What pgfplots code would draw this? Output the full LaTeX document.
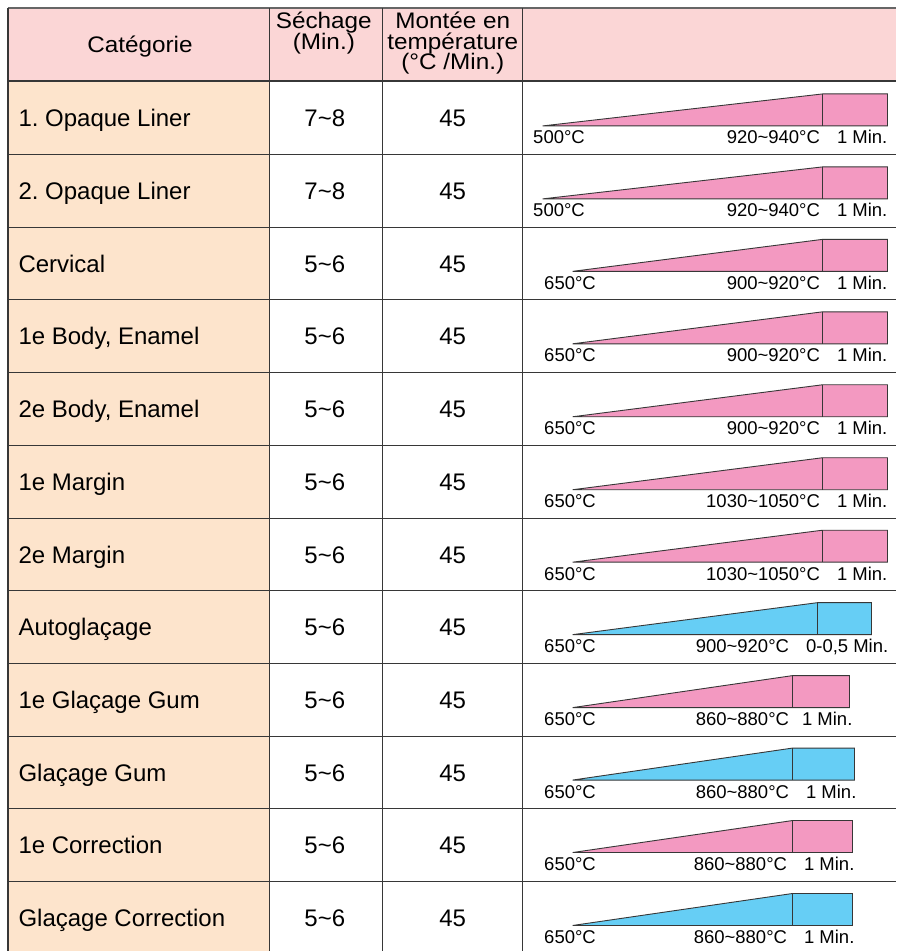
\documentclass[border=0pt]{standalone}
\usepackage{fontspec}
\setmainfont{Liberation Sans}
\newfontfamily\hdrfont[FakeStretch=1.08]{Liberation Sans}
\usepackage{pgfplots}
\pgfplotsset{compat=1.18}
\frenchspacing
\definecolor{hdrpink}{RGB}{251,214,214}
\definecolor{catpeach}{RGB}{253,228,204}
\definecolor{rpink}{RGB}{243,153,193}
\definecolor{rblue}{RGB}{102,206,245}
\definecolor{linec}{RGB}{55,55,55}
\newcommand{\ramp}[6]{%
  \addplot[draw=linec, line width=0.9pt, fill=#6] coordinates {(#3,#1) (#4,#2) (#5,#2) (#5,#1) (#3,#1)};
  \addplot[draw=linec, line width=0.9pt] coordinates {(#4,#2) (#4,#1)};
}
\newcommand{\hrow}[1]{\draw[linec, line width=1.1pt] (8,#1) -- (897,#1);}
\newcommand{\vcol}[1]{\draw[linec, line width=1.1pt] (#1,8) -- (#1,952);}
\newcommand{\rowtext}[3]{%
  \node[anchor=base west, font=\fontsize{24}{28}\selectfont] at (15,#1) {#2};
  \node[anchor=base, font=\fontsize{24}{28}\selectfont] at (325,#1) {#3};
  \node[anchor=base, font=\fontsize{24}{28}\selectfont] at (453,#1) {45};
}
\newcommand{\lab}[7]{%
  \node[anchor=base west, font=\fontsize{18.5}{22}\selectfont] at (#2,#1) {#3°C};
  \node[anchor=base east, font=\fontsize{18.5}{22}\selectfont] at (#4,#1) {#5°C};
  \node[anchor=base west, font=\fontsize{18.5}{22}\selectfont] at (#6,#1) {#7};
}
\newcommand{\tl}{\textasciitilde}
\begin{document}
\begin{tikzpicture}
\begin{axis}[
  width=897pt, height=952pt, scale only axis,
  xmin=0, xmax=897, ymin=0, ymax=952, y dir=reverse,
  hide axis, clip=false,
  every node/.style={inner sep=0pt, outer sep=0pt, text=black!85},
]
% backgrounds
\fill[white] (0,0) rectangle (897,952);
\fill[hdrpink] (8,8) rectangle (897,81);
\fill[catpeach] (8,81) rectangle (270,952);
% grid lines
\draw[gray!80!black, line width=1.6pt] (8,8) -- (897,8);
\draw[linec, line width=1.3pt] (8,81) -- (897,81);
\hrow{155}\hrow{227.5}\hrow{300}\hrow{373}\hrow{446}\hrow{518.5}
\hrow{591}\hrow{664}\hrow{736.5}\hrow{809}\hrow{882}
\vcol{8}\vcol{270}\vcol{383}\vcol{523}
% header text
\node[anchor=base, font=\hdrfont\fontsize{22.5}{24}\selectfont] at (140,53) {Catégorie};
\node[anchor=base, font=\hdrfont\fontsize{22.5}{24}\selectfont] at (324,29) {Séchage};
\node[anchor=base, font=\hdrfont\fontsize{22.5}{24}\selectfont] at (324,50) {(Min.)};
\node[anchor=base, font=\hdrfont\fontsize{22.5}{24}\selectfont] at (453,29) {Montée en};
\node[anchor=base, font=\hdrfont\fontsize{22.5}{24}\selectfont] at (453,49.5) {température};
\node[anchor=base, font=\hdrfont\fontsize{22.5}{24}\selectfont] at (453,70) {(°C /Min.)};
% row text
\rowtext{127}{1. Opaque Liner}{7\tl 8}
\rowtext{200}{2. Opaque Liner}{7\tl 8}
\rowtext{272.5}{Cervical}{5\tl 6}
\rowtext{345}{1e Body, Enamel}{5\tl 6}
\rowtext{418}{2e Body, Enamel}{5\tl 6}
\rowtext{491}{1e Margin}{5\tl 6}
\rowtext{563.5}{2e Margin}{5\tl 6}
\rowtext{636}{Autoglaçage}{5\tl 6}
\rowtext{709}{1e Glaçage Gum}{5\tl 6}
\rowtext{781.5}{Glaçage Gum}{5\tl 6}
\rowtext{854}{1e Correction}{5\tl 6}
\rowtext{927}{Glaçage Correction}{5\tl 6}
% ramps: base, top, xstart, xpeak, xend, colour
\ramp{126}{94}{543}{823}{888}{rpink}
\ramp{199}{167}{543}{823}{888}{rpink}
\ramp{271.5}{239.5}{573}{823}{888}{rpink}
\ramp{344}{312}{573}{823}{888}{rpink}
\ramp{417}{385}{573}{823}{888}{rpink}
\ramp{490}{458}{573}{823}{888}{rpink}
\ramp{562.5}{530.5}{573}{823}{888}{rpink}
\ramp{635}{603}{573}{818}{872}{rblue}
\ramp{708}{676}{573}{793}{850}{rpink}
\ramp{780.5}{748.5}{573}{793}{855}{rblue}
\ramp{853}{821}{573}{793}{853}{rpink}
\ramp{926}{894}{573}{793}{853}{rblue}
% ramp labels
\lab{144}{530}{500}{824}{920\tl 940}{834}{1 Min.}
\lab{217}{530}{500}{824}{920\tl 940}{834}{1 Min.}
\lab{289.5}{541}{650}{824}{900\tl 920}{834}{1 Min.}
\lab{362}{541}{650}{824}{900\tl 920}{834}{1 Min.}
\lab{435}{541}{650}{824}{900\tl 920}{834}{1 Min.}
\lab{508}{541}{650}{824}{1030\tl 1050}{834}{1 Min.}
\lab{580.5}{541}{650}{824}{1030\tl 1050}{834}{1 Min.}
\lab{653}{541}{650}{793}{900\tl 920}{803}{0-0,5 Min.}
\lab{726}{541}{650}{793}{860\tl 880}{799}{1 Min.}
\lab{798.5}{541}{650}{793}{860\tl 880}{803}{1 Min.}
\lab{871}{541}{650}{791}{860\tl 880}{801}{1 Min.}
\lab{944}{541}{650}{791}{860\tl 880}{801}{1 Min.}
\end{axis}
\end{tikzpicture}
\end{document}
